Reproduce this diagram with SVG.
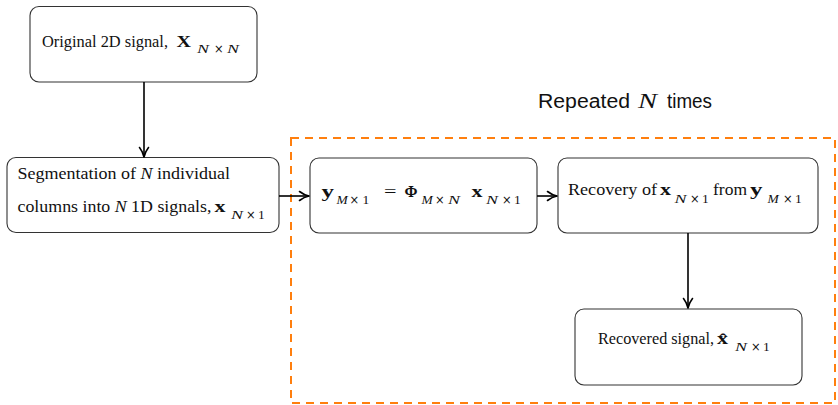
<svg xmlns="http://www.w3.org/2000/svg" width="838" height="405" viewBox="0 0 838 405">
<style>
.box{fill:#fff;stroke:#333;stroke-width:1.1}
.t{font-family:"Liberation Serif","DejaVu Serif",serif;font-size:16px;fill:#111}
.b{font-weight:bold;font-size:16px}
.s{font-family:"Liberation Serif","DejaVu Serif",serif;font-size:13.5px;fill:#111}
.m{font-family:"DejaVu Sans",sans-serif;font-size:11.5px}
.i{font-style:italic}
.sa{font-family:"Liberation Sans","DejaVu Sans",sans-serif;font-size:19.5px;fill:#111}
.edge{stroke:#000;stroke-width:1.6;fill:none;marker-end:url(#ah)}
</style>
<defs>
<marker id="ah" viewBox="0 0 12 12" refX="11" refY="6" markerWidth="12" markerHeight="12" markerUnits="userSpaceOnUse" orient="auto">
<path d="M1.5,1.5 Q6,5 11,6 Q6,7 1.5,10.5" fill="none" stroke="#000" stroke-width="1.6" stroke-linecap="round" stroke-linejoin="round"/>
</marker>
</defs>
<rect x="291" y="138" width="544" height="265" fill="none" stroke="#ff7f0e" stroke-width="2" stroke-dasharray="8,6"/>
<text class="sa" x="538" y="108" textLength="92" lengthAdjust="spacingAndGlyphs">Repeated</text>
<text x="638" y="108" font-family="'Liberation Serif',serif" font-style="italic" font-size="21" fill="#111" textLength="19" lengthAdjust="spacingAndGlyphs">N</text>
<text class="sa" x="667" y="108" textLength="45" lengthAdjust="spacingAndGlyphs">times</text>
<g id="n1">
<rect class="box" x="30" y="6.5" width="227" height="75.5" rx="9"/>
<text class="t" x="42" y="46.5" textLength="126" lengthAdjust="spacingAndGlyphs">Original 2D signal,</text>
<text class="t b" x="176.5" y="46.5" textLength="14.5" lengthAdjust="spacingAndGlyphs">X</text>
<text class="s i" x="197" y="53" textLength="12" lengthAdjust="spacingAndGlyphs">N</text><text class="s m" x="214" y="53">×</text><text class="s i" x="227" y="53" textLength="12" lengthAdjust="spacingAndGlyphs">N</text>
</g>
<g id="n2">
<rect class="box" x="7" y="157.5" width="272" height="75" rx="9"/>
<text class="t" x="17.5" y="178.7" textLength="212.5" lengthAdjust="spacingAndGlyphs">Segmentation of <tspan class="i">N</tspan> individual</text>
<text class="t" x="17.5" y="212" textLength="194" lengthAdjust="spacingAndGlyphs">columns into <tspan class="i">N</tspan> 1D signals,</text>
<text class="t b" x="214.5" y="212" textLength="11" lengthAdjust="spacingAndGlyphs">x</text>
<text class="s i" x="231" y="219" textLength="12" lengthAdjust="spacingAndGlyphs">N</text><text class="s m" x="246" y="219">×</text><text class="s" x="258" y="219">1</text>
</g>
<g id="n3">
<rect class="box" x="310" y="158" width="227" height="75" rx="9"/>
<text class="t b" x="321.5" y="197" textLength="12.5" lengthAdjust="spacingAndGlyphs">y</text>
<text class="s i" x="336.5" y="203.5">M</text><text class="s m" x="349.5" y="203.5">×</text><text class="s" x="362.5" y="203.5">1</text>
<text class="t" x="384" y="197" textLength="12.5" lengthAdjust="spacingAndGlyphs">=</text>
<text class="t b" x="404.5" y="197" textLength="13" lengthAdjust="spacingAndGlyphs">Φ</text>
<text class="s i" x="421.5" y="203.5">M</text><text class="s m" x="435" y="203.5">×</text><text class="s i" x="448" y="203.5" textLength="12" lengthAdjust="spacingAndGlyphs">N</text>
<text class="t b" x="471.5" y="197" textLength="11" lengthAdjust="spacingAndGlyphs">x</text>
<text class="s i" x="486" y="203.5" textLength="12" lengthAdjust="spacingAndGlyphs">N</text><text class="s m" x="502" y="203.5">×</text><text class="s" x="514" y="203.5">1</text>
</g>
<g id="n4">
<rect class="box" x="558" y="158" width="260" height="75" rx="9"/>
<text class="t" x="568" y="195" textLength="89" lengthAdjust="spacingAndGlyphs">Recovery of</text>
<text class="t b" x="660" y="195" textLength="11" lengthAdjust="spacingAndGlyphs">x</text>
<text class="s i" x="674.5" y="202.5" textLength="12" lengthAdjust="spacingAndGlyphs">N</text><text class="s m" x="690" y="202.5">×</text><text class="s" x="702" y="202.5">1</text>
<text class="t" x="713" y="195" textLength="34" lengthAdjust="spacingAndGlyphs">from</text>
<text class="t b" x="750" y="195" textLength="12.5" lengthAdjust="spacingAndGlyphs">y</text>
<text class="s i" x="767.5" y="202.5">M</text><text class="s m" x="783" y="202.5">×</text><text class="s" x="795" y="202.5">1</text>
</g>
<g id="n5">
<rect class="box" x="575" y="309" width="227" height="76" rx="9"/>
<text class="t" x="598" y="344" textLength="116" lengthAdjust="spacingAndGlyphs">Recovered signal,</text>
<text class="t b" x="717" y="344" textLength="11" lengthAdjust="spacingAndGlyphs">x̂</text>
<text class="s i" x="735" y="350.5" textLength="12" lengthAdjust="spacingAndGlyphs">N</text><text class="s m" x="751" y="350.5">×</text><text class="s" x="763" y="350.5">1</text>
</g>
<g id="edges">
<line class="edge" x1="144" y1="82" x2="144" y2="157"/>
<line class="edge" x1="279" y1="196" x2="309" y2="196"/>
<line class="edge" x1="537" y1="196" x2="557" y2="196"/>
<line class="edge" x1="688" y1="233" x2="688" y2="308"/>
</g>
</svg>
